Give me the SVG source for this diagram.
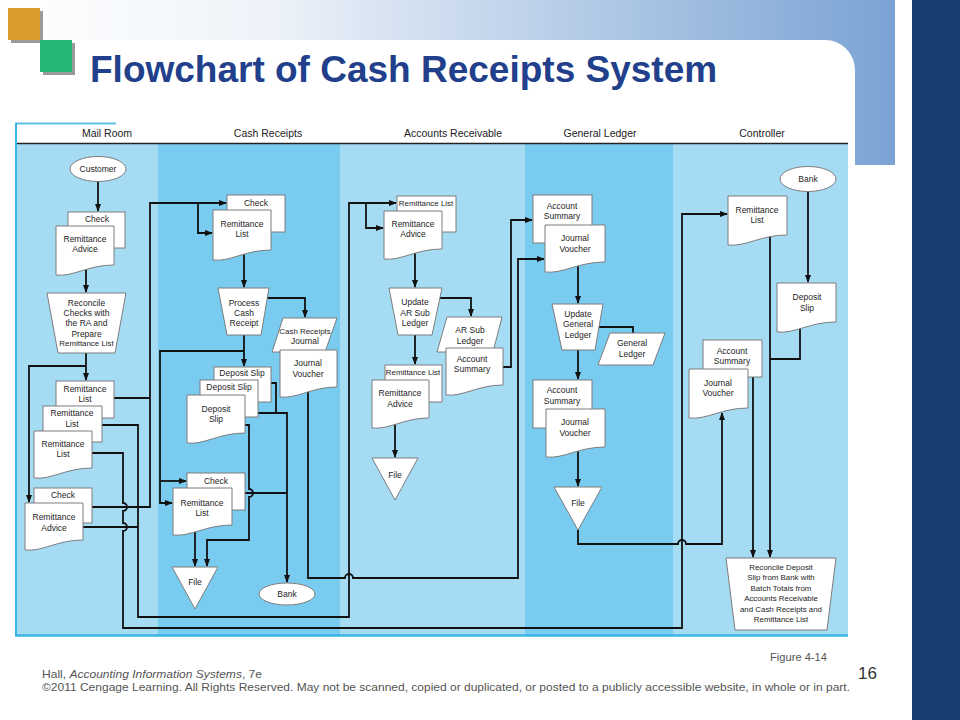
<svg xmlns="http://www.w3.org/2000/svg" width="960" height="720" viewBox="0 0 960 720">
<defs>
<linearGradient id="bandGrad" x1="0" y1="0" x2="1" y2="0">
<stop offset="0" stop-color="#ffffff"/>
<stop offset="0.3" stop-color="#eef3f9"/>
<stop offset="1" stop-color="#7aa3d4"/>
</linearGradient>
<marker id="ah" markerWidth="8" markerHeight="6" refX="7" refY="3" orient="auto" markerUnits="userSpaceOnUse">
<path d="M0,0 L8,3 L0,6 z" fill="#111"/>
</marker>
<style>
.shape{fill:#fff;stroke:#7d7d7d;stroke-width:1}
.t{font-family:"Liberation Sans",Arial,sans-serif;font-size:8.5px;fill:#1e1e1e;text-anchor:middle}
.ts{font-family:"Liberation Sans",Arial,sans-serif;font-size:7.9px;fill:#1e1e1e;text-anchor:middle}
.h{font-family:"Liberation Sans",Arial,sans-serif;font-size:10.5px;fill:#222;text-anchor:middle}
.ln path{fill:none;stroke:#111;stroke-width:1.8}
.ln path.arr{marker-end:url(#ah)}
.foot{font-family:"Liberation Sans",Arial,sans-serif;fill:#555}
</style>
</defs>

<rect x="0" y="0" width="960" height="720" fill="#fff"/>
<rect x="0" y="0" width="895" height="165" fill="url(#bandGrad)"/>
<path d="M0,40 H825 A30,30 0 0 1 855,70 V720 H0 Z" fill="#fff"/>
<rect x="912" y="0" width="48" height="720" fill="#173e6e"/>

<g id="logo">
<rect x="11" y="11" width="32" height="32" fill="#9a9a9a"/>
<rect x="8" y="8" width="32" height="32" fill="#d99a2e"/>
<rect x="43" y="43" width="32" height="32" fill="#9a9a9a"/>
<rect x="40" y="40" width="32" height="32" fill="#26b673"/>
</g>

<text x="90" y="82" font-family="Liberation Sans,Arial,sans-serif" font-size="37" font-weight="bold" fill="#213f8b">Flowchart of Cash Receipts System</text>

<g id="lanes">
<rect x="15" y="123" width="833" height="513" fill="#a6dbf4"/>
<rect x="158" y="144" width="182" height="491" fill="#7acbf0"/>
<rect x="525" y="144" width="148" height="491" fill="#7acbf0"/>
<rect x="15" y="123" width="833" height="20" fill="#fff"/>
<line x1="15" y1="143.5" x2="848" y2="143.5" stroke="#222" stroke-width="1.5"/>
<line x1="15" y1="123.5" x2="116" y2="123.5" stroke="#5fc0ea" stroke-width="2"/>
<line x1="16" y1="123" x2="16" y2="636" stroke="#39b4e6" stroke-width="2"/>
<line x1="15" y1="635.5" x2="848" y2="635.5" stroke="#39b4e6" stroke-width="2.5"/>
<text x="107" y="137" class="h">Mail Room</text>
<text x="268" y="137" class="h">Cash Receipts</text>
<text x="453" y="137" class="h">Accounts Receivable</text>
<text x="600" y="137" class="h">General Ledger</text>
<text x="762" y="137" class="h">Controller</text>
</g>

<g id="connectors" class="ln">
<path class="arr" d="M98,182 V211"/>
<path class="arr" d="M86,268 V292"/>
<path class="arr" d="M86,353 V380"/>
<path class="arr" d="M86,366 H29 V502"/>
<path d="M114,398 H150"/>
<path class="arr" d="M92,507 H150 V203 H226"/>
<path class="arr" d="M198,203 V233 H212"/>
<path class="arr" d="M102,425 H138 V617 H349 V203 H396"/>
<path class="arr" d="M366,203 V228 H383"/>
<path d="M83,527 H138"/>
<path class="arr" d="M92,453 H123 V503 A4,4 0 0 1 123,511 V523 A4,4 0 0 1 123,531 V628 H682 V214 H727"/>
<path class="arr" d="M244,252 V287"/>
<path class="arr" d="M267,298 H305 V317"/>
<path class="arr" d="M244,335 V366"/>
<path class="arr" d="M244,351 H160 V503 H172"/>
<path class="arr" d="M160,481 H186"/>
<path d="M271,383 H276 V413"/>
<path class="arr" d="M258,413 H287 V582"/>
<path d="M245,493 H287"/>
<path class="arr" d="M245,425 H249 V489 A4,4 0 0 1 249,497 V540 H207 V566"/>
<path class="arr" d="M195,529 V566"/>
<path class="arr" d="M308,391 V578 H345 A4,4 0 0 1 353,578 H518 V259 H544"/>
<path class="arr" d="M415,252 V287"/>
<path class="arr" d="M440,298 H471 V316"/>
<path class="arr" d="M415,335 V364"/>
<path class="arr" d="M395,422 V457"/>
<path class="arr" d="M503,367 H511 V220 H532"/>
<path class="arr" d="M578,264 V303"/>
<path d="M599,327 H633 V333"/>
<path class="arr" d="M578,350 V379"/>
<path class="arr" d="M578,449 V486"/>
<path class="arr" d="M578,530 V544 H678 A4,4 0 0 1 686,544 H722 V413"/>
<path class="arr" d="M808,192 V282"/>
<path class="arr" d="M770,236 V557"/>
<path d="M800,326 V359 H770"/>
<path class="arr" d="M753,377 V557"/>
</g>

<!-- Mail Room -->
<g id="mr-customer"><ellipse cx="98" cy="169" rx="28" ry="12.5" class="shape"/><text x="98" y="172" class="t">Customer</text></g>
<g id="mr-check"><rect x="68" y="212" width="57" height="36" class="shape"/><text x="97" y="222" class="t">Check</text></g>
<g id="mr-remittance-advice"><path d="M56,226 H114 V265 C87.9,265 73.4,277 56,275 Z" class="shape"/><text x="85" y="242" class="t">Remittance</text><text x="85" y="252" class="t">Advice</text></g>
<g id="mr-reconcile"><polygon points="47,293 126,293 115,353 58,353" class="shape"/>
<text x="86.5" y="306" class="t">Reconcile</text><text x="86.5" y="316" class="t">Checks with</text><text x="86.5" y="326" class="t">the RA and</text><text x="86.5" y="337" class="t">Prepare</text><text x="86.5" y="346" class="ts">Remittance List</text></g>
<g id="mr-remittance-list-1"><rect x="56" y="381" width="58" height="37" class="shape"/><text x="85" y="392" class="t">Remittance</text><text x="85" y="402" class="t">List</text></g>
<g id="mr-remittance-list-2"><rect x="43" y="406" width="59" height="36" class="shape"/><text x="72" y="416" class="t">Remittance</text><text x="72" y="427" class="t">List</text></g>
<g id="mr-remittance-list-3"><path d="M34,431 H92 V468 C65.9,468 51.4,480 34,478 Z" class="shape"/><text x="63" y="447" class="t">Remittance</text><text x="63" y="457" class="t">List</text></g>
<g id="mr-check-2"><rect x="34" y="488" width="58" height="35" class="shape"/><text x="63" y="498" class="t">Check</text></g>
<g id="mr-remittance-advice-2"><path d="M25,503 H83 V540 C56.9,540 42.4,552 25,550 Z" class="shape"/><text x="54" y="520" class="t">Remittance</text><text x="54" y="531" class="t">Advice</text></g>

<!-- Cash Receipts -->
<g id="cr-check"><rect x="227" y="195" width="58" height="37" class="shape"/><text x="256" y="206" class="t">Check</text></g>
<g id="cr-remittance-list"><path d="M213,210 H271 V250 C244.9,250 230.4,262 213,260 Z" class="shape"/><text x="242" y="227" class="t">Remittance</text><text x="242" y="237" class="t">List</text></g>
<g id="cr-process"><polygon points="218,288 269,288 261,335 227,335" class="shape"/><text x="244" y="306" class="t">Process</text><text x="244" y="316" class="t">Cash</text><text x="244" y="326" class="t">Receipt</text></g>
<g id="cr-journal"><polygon points="283,318 337,318 325,352 272,352" class="shape"/><text x="305" y="334" class="ts">Cash Receipts</text><text x="305" y="344" class="t">Journal</text></g>
<g id="cr-journal-voucher"><path d="M280,350 H337 V387 C311.4,387 297.1,399 280,397 Z" class="shape"/><text x="308" y="366" class="t">Journal</text><text x="308" y="377" class="t">Voucher</text></g>
<g id="cr-deposit-slip-1"><rect x="214" y="367" width="57" height="35" class="shape"/><text x="242" y="376" class="t">Deposit Slip</text></g>
<g id="cr-deposit-slip-2"><rect x="200" y="380" width="58" height="37" class="shape"/><text x="229" y="390" class="t">Deposit Slip</text></g>
<g id="cr-deposit-slip-3"><path d="M187,395 H245 V433 C218.9,433 204.4,445 187,443 Z" class="shape"/><text x="216" y="412" class="t">Deposit</text><text x="216" y="422" class="t">Slip</text></g>
<g id="cr-check-2"><rect x="187" y="473" width="58" height="37" class="shape"/><text x="216" y="484" class="t">Check</text></g>
<g id="cr-remittance-list-2"><path d="M173,488 H232 V525 C205.5,525 190.7,537 173,535 Z" class="shape"/><text x="202" y="506" class="t">Remittance</text><text x="202" y="516" class="t">List</text></g>
<g id="cr-file"><polygon points="172,567 218,567 195,609" class="shape"/><text x="195" y="585" class="t">File</text></g>
<g id="cr-bank"><ellipse cx="287" cy="594" rx="28" ry="11" class="shape"/><text x="287" y="597" class="t">Bank</text></g>

<!-- Accounts Receivable -->
<g id="ar-remittance-list"><rect x="397" y="196" width="59" height="36" class="shape"/><text x="426" y="206" class="ts">Remittance List</text></g>
<g id="ar-remittance-advice"><path d="M384,211 H442 V249 C415.9,249 401.4,261 384,259 Z" class="shape"/><text x="413" y="227" class="t">Remittance</text><text x="413" y="237" class="t">Advice</text></g>
<g id="ar-update"><polygon points="389,288 442,288 432,335 398,335" class="shape"/><text x="415" y="305" class="t">Update</text><text x="415" y="316" class="t">AR Sub</text><text x="415" y="326" class="t">Ledger</text></g>
<g id="ar-sub-ledger"><polygon points="447,317 502,317 493,352 437,352" class="shape"/><text x="470" y="333" class="t">AR Sub</text><text x="470" y="344" class="t">Ledger</text></g>
<g id="ar-account-summary"><path d="M446,348 H503 V385 C477.4,385 463.1,397 446,395 Z" class="shape"/><text x="472" y="362" class="t">Account</text><text x="472" y="372" class="t">Summary</text></g>
<g id="ar-remittance-list-2"><rect x="385" y="365" width="57" height="37" class="shape"/><text x="413" y="375" class="ts">Remittance List</text></g>
<g id="ar-remittance-advice-2"><path d="M372,380 H429 V418 C403.4,418 389.1,430 372,428 Z" class="shape"/><text x="400" y="396" class="t">Remittance</text><text x="400" y="407" class="t">Advice</text></g>
<g id="ar-file"><polygon points="372,458 418,458 395,500" class="shape"/><text x="395" y="478" class="t">File</text></g>

<!-- General Ledger -->
<g id="gl-account-summary"><rect x="533" y="195" width="59" height="48" class="shape"/><text x="562" y="209" class="t">Account</text><text x="562" y="219" class="t">Summary</text></g>
<g id="gl-journal-voucher"><path d="M545,225 H605 V262 C578,262 563,274 545,272 Z" class="shape"/><text x="575" y="241" class="t">Journal</text><text x="575" y="252" class="t">Voucher</text></g>
<g id="gl-update"><polygon points="552,304 603,304 595,350 562,350" class="shape"/><text x="578" y="317" class="t">Update</text><text x="578" y="327" class="t">General</text><text x="578" y="338" class="t">Ledger</text></g>
<g id="gl-general-ledger"><polygon points="610,333 665,333 653,365 598,365" class="shape"/><text x="632" y="346" class="t">General</text><text x="632" y="357" class="t">Ledger</text></g>
<g id="gl-account-summary-2"><rect x="533" y="380" width="59" height="48" class="shape"/><text x="562" y="393" class="t">Account</text><text x="562" y="404" class="t">Summary</text></g>
<g id="gl-journal-voucher-2"><path d="M546,409 H605 V447 C578.5,447 563.7,459 546,457 Z" class="shape"/><text x="575" y="425" class="t">Journal</text><text x="575" y="436" class="t">Voucher</text></g>
<g id="gl-file"><polygon points="554,487 602,487 578,530" class="shape"/><text x="578" y="506" class="t">File</text></g>

<!-- Controller -->
<g id="ct-bank"><ellipse cx="808" cy="179" rx="28" ry="12.5" class="shape"/><text x="808" y="182" class="t">Bank</text></g>
<g id="ct-remittance-list"><path d="M728,196 H787 V235 C760.5,235 745.7,247 728,245 Z" class="shape"/><text x="757" y="213" class="t">Remittance</text><text x="757" y="223" class="t">List</text></g>
<g id="ct-deposit-slip"><path d="M777,283 H836 V322 C809.5,322 794.7,334 777,332 Z" class="shape"/><text x="807" y="300" class="t">Deposit</text><text x="807" y="311" class="t">Slip</text></g>
<g id="ct-account-summary"><rect x="703" y="340" width="59" height="37" class="shape"/><text x="732" y="354" class="t">Account</text><text x="732" y="364" class="t">Summary</text></g>
<g id="ct-journal-voucher"><path d="M689,369 H748 V408 C721.5,408 706.7,420 689,418 Z" class="shape"/><text x="718" y="386" class="t">Journal</text><text x="718" y="396" class="t">Voucher</text></g>
<g id="ct-reconcile"><polygon points="726,558 836,558 827,630 735,630" class="shape"/>
<text x="781" y="570" class="ts">Reconcile Deposit</text><text x="781" y="580" class="ts">Slip from Bank with</text><text x="781" y="591" class="ts">Batch Totals from</text><text x="781" y="601" class="ts">Accounts Receivable</text><text x="781" y="612" class="ts">and Cash Receipts and</text><text x="781" y="622" class="ts">Remittance List</text></g>

<g id="footer">
<text x="770" y="661" class="foot" font-size="10" textLength="57" lengthAdjust="spacingAndGlyphs">Figure 4-14</text>
<text x="858" y="679" font-family="Liberation Sans,Arial,sans-serif" font-size="17" fill="#333">16</text>
<text x="42" y="678" class="foot" font-size="11" textLength="220" lengthAdjust="spacingAndGlyphs">Hall, <tspan font-style="italic">Accounting Information Systems</tspan>, 7e</text>
<text x="42" y="691" class="foot" font-size="11" textLength="808" lengthAdjust="spacingAndGlyphs">©2011 Cengage Learning. All Rights Reserved. May not be scanned, copied or duplicated, or posted to a publicly accessible website, in whole or in part.</text>
</g>
</svg>
